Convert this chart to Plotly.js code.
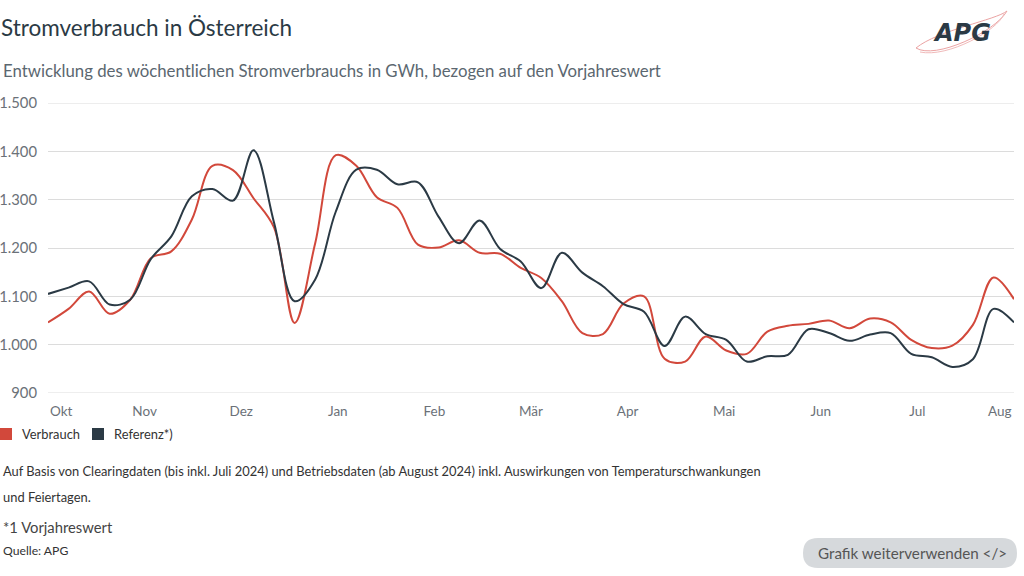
<!DOCTYPE html>
<html>
<head>
<meta charset="utf-8">
<script src="https://cdn.plot.ly/plotly-3.0.1.min.js"></script>
<style>
  html, body { margin: 0; padding: 0; background: #ffffff; }
  #chart { width: 1024px; height: 576px; }
</style>
</head>
<body>
<div id="chart"></div>
<script>
// ---- data (weekly points, index 0..47) ----
const weekIndex = Array.from({length: 48}, (_, i) => i);
const verbrauch = [1046,1074,1110,1064,1093,1179,1193,1259,1370,1361,1303,1242,1045,1210,1392,1370,1305,1283,1207,1201,1216,1190,1188,1159,1138,1090,1024,1022,1085,1100,971,965,1017,988,981,1027,1039,1043,1050,1034,1054,1046,1010,993,998,1041,1139,1094];
const referenz  = [1105,1118,1131,1083,1093,1177,1224,1307,1322,1298,1402,1252,1090,1135,1275,1362,1362,1332,1336,1265,1210,1257,1198,1172,1117,1190,1149,1121,1084,1068,997,1058,1022,1010,965,976,979,1032,1024,1008,1021,1024,981,974,954,970,1074,1046];
const monthLabels = ["Okt","Nov","Dez","Jan","Feb","Mär","Apr","Mai","Jun","Jul","Aug"];
const monthPos = [0,4.7,9.4,14.1,18.8,23.5,28.2,32.9,37.6,42.3,47];
const yTicks = [900,1000,1100,1200,1300,1400,1500];
const seriesNames = ["Verbrauch","Referenz*)"];

const RED = "#d2483b";
const DARK = "#2b3a45";
const FONT = "Lato, 'Open Sans', sans-serif";
const GRID = "#dcdcdc";

// pixel helpers for paper coords (plot area: x 48..1014, y 103..393)
const px = v => (v - 48) / 966;
const py = v => (393 - v) / 290;

const traces = [
  {x: weekIndex, y: verbrauch, type: "scatter", mode: "lines", name: seriesNames[0],
   line: {color: RED, width: 2, shape: "spline", smoothing: 1}, showlegend: false, hoverinfo: "skip"},
  {x: weekIndex, y: referenz, type: "scatter", mode: "lines", name: seriesNames[1],
   line: {color: DARK, width: 2, shape: "spline", smoothing: 1}, showlegend: false, hoverinfo: "skip"}
];

// rounded button path
const bx0 = px(803), bx1 = px(1017), byT = py(538), byB = py(568);
const rx = 15/966, ry = 15/290;
const btnPath = `M ${bx0+rx} ${byT} L ${bx1-rx} ${byT} Q ${bx1} ${byT} ${bx1} ${byT-ry} ` +
  `Q ${bx1} ${byB} ${bx1-rx} ${byB} L ${bx0+rx} ${byB} Q ${bx0} ${byB} ${bx0} ${byB+ry} ` +
  `Q ${bx0} ${byT} ${bx0+rx} ${byT} Z`;

// logo swoosh
const sw1 = `M ${px(916)} ${py(48)} C ${px(935)} ${py(60)}, ${px(995)} ${py(32)}, ${px(1007)} ${py(11)} ` +
            `C ${px(996)} ${py(20)}, ${px(938)} ${py(30)}, ${px(916)} ${py(48)}`;
const sw2 = `M ${px(920)} ${py(52)} C ${px(948)} ${py(58)}, ${px(998)} ${py(30)}, ${px(1004)} ${py(14)}`;

const ann = [];
function addText(text, x, y, size, color, xanchor, extra) {
  ann.push(Object.assign({text, x, y, xref: "paper", yref: "paper", xanchor: xanchor || "left",
    yanchor: "middle", showarrow: false, font: {family: FONT, size, color}}, extra || {}));
}
addText("Entwicklung des wöchentlichen Stromverbrauchs in GWh, bezogen auf den Vorjahreswert", px(1), py(70), 16.8, "#5b6770");
addText("Auf Basis von Clearingdaten (bis inkl. Juli 2024) und Betriebsdaten (ab August 2024) inkl. Auswirkungen von Temperaturschwankungen", px(1), py(471), 12.9, "#333333");
addText("und Feiertagen.", px(1), py(497), 12.9, "#333333");
addText("*1 Vorjahreswert", px(1), py(527), 14.8, "#444444");
addText("Quelle: APG", px(1), py(550), 12.2, "#333333");
addText("Grafik weiterverwenden &lt;/&gt;", px(912), py(553), 15.2, "#555555", "center");
addText("<b><i>APG</i></b>", px(962), py(33), 24, "#2b3a45", "center", {font: {family: "DejaVu Sans", size: 24, color: "#2b3a45"}});
// legend (manual, square swatches)
addText(seriesNames[0], px(20), py(434), 12.9, "#333333");
addText(seriesNames[1], px(112), py(434), 12.9, "#333333");
// first and last month labels justified inside the plot
ann.push({text: monthLabels[0], x: monthPos[0], y: py(411), xref: "x", yref: "paper", xanchor: "left",
  yanchor: "middle", showarrow: false, font: {family: FONT, size: 13.5, color: "#6b7178"}});
ann.push({text: monthLabels[10], x: monthPos[10], y: py(411), xref: "x", yref: "paper", xanchor: "right",
  yanchor: "middle", showarrow: false, font: {family: FONT, size: 13.5, color: "#6b7178"}});

const layout = {
  width: 1024, height: 576,
  margin: {l: 48, r: 10, t: 103, b: 183, pad: 0},
  paper_bgcolor: "#ffffff", plot_bgcolor: "#ffffff",
  separators: ",.",
  font: {family: FONT, color: "#6b7178"},
  title: {text: "Stromverbrauch in Österreich", x: 0.001, xref: "container", xanchor: "left",
          y: 1 - 28/576, yref: "container", yanchor: "middle",
          font: {family: FONT, size: 22.5, color: "#2b3a45"}},
  xaxis: {range: [0, 47], tickvals: monthPos.slice(1, 10), ticktext: monthLabels.slice(1, 10),
          showgrid: false, zeroline: false, showline: false, ticks: "",
          ticklabelstandoff: 8,
          tickfont: {family: FONT, size: 13.5, color: "#6b7178"}, fixedrange: true},
  yaxis: {range: [900, 1500], tickvals: yTicks, tickformat: ",d", showgrid: true,
          gridcolor: GRID, gridwidth: 1, zeroline: false, showline: false, ticks: "",
          ticklabelstandoff: 10,
          tickfont: {family: FONT, size: 14.8, color: "#6b7178"}, fixedrange: true},
  showlegend: false,
  shapes: [
    {type: "line", xref: "paper", yref: "y", x0: 0, x1: 1, y0: yTicks[0], y1: yTicks[0], line: {color: GRID, width: 1}, layer: "below"},
    {type: "line", xref: "paper", yref: "y", x0: 0, x1: 1, y0: yTicks[6], y1: yTicks[6], line: {color: GRID, width: 1}, layer: "below"},
    {type: "rect", xref: "paper", yref: "paper", x0: px(0), x1: px(12), y0: py(428), y1: py(440), fillcolor: RED, line: {width: 0}},
    {type: "rect", xref: "paper", yref: "paper", x0: px(92), x1: px(104), y0: py(428), y1: py(440), fillcolor: DARK, line: {width: 0}},
    {type: "path", path: btnPath, xref: "paper", yref: "paper", fillcolor: "#d6d9dc", line: {width: 0}, layer: "below"},
    {type: "path", path: sw1, xref: "paper", yref: "paper", fillcolor: "rgba(0,0,0,0)", line: {color: "#eba3a3", width: 1}},
    {type: "path", path: sw2, xref: "paper", yref: "paper", fillcolor: "rgba(0,0,0,0)", line: {color: "#f0baba", width: 1}}
  ],
  annotations: ann,
  hovermode: false
};

Plotly.newPlot("chart", traces, layout, {displayModeBar: false, staticPlot: true});
</script>
</body>
</html>
